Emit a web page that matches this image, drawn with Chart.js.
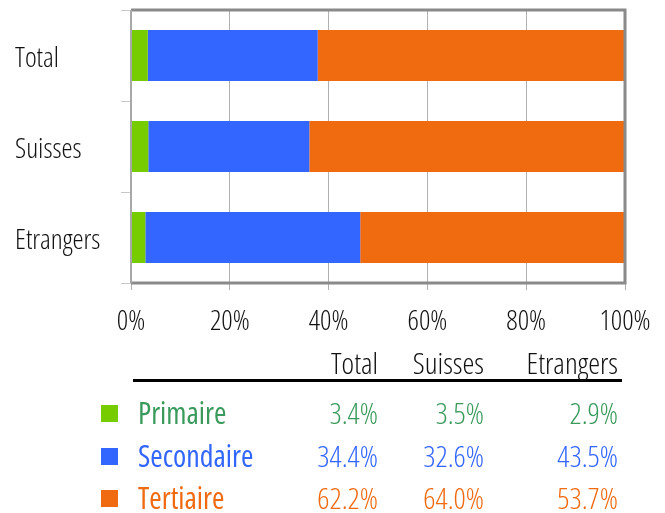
<!DOCTYPE html>
<html>
<head>
<meta charset="utf-8">
<script src="https://cdn.jsdelivr.net/npm/chart.js@4"></script>
<style>
  body { margin: 0; background: #ffffff; width: 665px; height: 513px; overflow: hidden; position: relative; font-family: "Open Sans", sans-serif; font-stretch: condensed; font-weight: 300; }
  #zone-graphique { position: absolute; left: 0; top: 0; width: 665px; height: 340px; }
  #tableau { position: absolute; left: 0; top: 0; width: 665px; height: 513px; }
  .cell { position: absolute; font-size: 30px; line-height: 30px; white-space: nowrap; }
  .droite { text-align: right; }
  .carre { position: absolute; width: 17px; height: 17px; }
  #trait { position: absolute; left: 133px; top: 379px; width: 489px; height: 3px; background: #000000; }
</style>
</head>
<body>
<div id="zone-graphique"><canvas id="graphique"></canvas></div>
<div id="tableau"><div id="trait"></div></div>
<script>
const GROUPES = ["Total", "Suisses", "Etrangers"];
const SECTEURS = ["Primaire", "Secondaire", "Tertiaire"];
const PRIMAIRE = [3.4, 3.5, 2.9];
const SECONDAIRE = [34.4, 32.6, 43.5];
const TERTIAIRE = [62.2, 64.0, 53.7];
const COULEURS_BARRES = ["#77cc00", "#3366ff", "#f06a10"];
const COULEURS_TEXTE = ["#3a9a5c", "#3366ff", "#f06a10"];

const SERIES = [PRIMAIRE, SECONDAIRE, TERTIAIRE];

// police étroite (Open Sans condensed)
const POLICE_AXES = { family: "'Open Sans'", size: 28, weight: "300 condensed" };

// cadre gris autour de la zone de tracé
const pluginCadre = {
  id: "cadre",
  afterDatasetsDraw(chart) {
    const { ctx, chartArea } = chart;
    const { left, right, top, bottom } = chartArea;
    ctx.save();
    ctx.strokeStyle = "#8a8a8a";
    ctx.lineWidth = 3;
    ctx.beginPath();
    ctx.moveTo(left, top);
    ctx.lineTo(right, top);
    ctx.lineTo(right, bottom);
    ctx.lineTo(left, bottom);
    ctx.stroke();
    ctx.strokeStyle = "#a8a8a8";
    ctx.lineWidth = 2;
    ctx.beginPath();
    ctx.moveTo(left, top);
    ctx.lineTo(left, bottom);
    ctx.stroke();
    ctx.restore();
  }
};

function construireTableau() {
  const tableau = document.getElementById("tableau");
  const colonnesDroite = [378, 484, 618];
  const lignesY = [398, 441, 483];

  function ajouter(texte, styles, classe) {
    const el = document.createElement("div");
    el.className = classe;
    el.textContent = texte;
    Object.assign(el.style, styles);
    tableau.appendChild(el);
    return el;
  }

  GROUPES.forEach((groupe, i) => {
    ajouter(groupe, { right: (665 - colonnesDroite[i]) + "px", top: "348px", color: "#111111" }, "cell droite");
  });

  SECTEURS.forEach((secteur, s) => {
    const y = lignesY[s];
    const carre = document.createElement("div");
    carre.className = "carre";
    carre.style.left = "101px";
    carre.style.top = (y + 7) + "px";
    carre.style.background = COULEURS_BARRES[s];
    tableau.appendChild(carre);

    ajouter(secteur, { left: "138px", top: y + "px", color: COULEURS_TEXTE[s], fontWeight: "500" }, "cell");

    SERIES[s].forEach((valeur, i) => {
      ajouter(valeur.toFixed(1) + "%", { right: (665 - colonnesDroite[i]) + "px", top: y + "px", color: COULEURS_TEXTE[s] }, "cell droite");
    });
  });
}

function iniciarGrafico() {
  const ctx = document.getElementById("graphique");
  new Chart(ctx, {
    type: "bar",
    data: {
      labels: GROUPES,
      datasets: SECTEURS.map((secteur, s) => ({
        label: secteur,
        data: SERIES[s],
        backgroundColor: COULEURS_BARRES[s],
        borderWidth: 0,
        categoryPercentage: 1,
        barPercentage: 0.56
      }))
    },
    options: {
      indexAxis: "y",
      responsive: true,
      maintainAspectRatio: false,
      animation: false,
      layout: { padding: { top: 10, right: 40, left: 15, bottom: 0 } },
      plugins: {
        legend: { display: false },
        tooltip: { enabled: false }
      },
      scales: {
        x: {
          stacked: true,
          min: 0,
          max: 100,
          afterFit(scale) {
            scale.height = 57;
            scale.paddingLeft = 0;
            scale.paddingRight = 0;
          },
          ticks: {
            stepSize: 20,
            padding: 15,
            color: "#111111",
            font: POLICE_AXES,
            callback(v) { return v + "%"; }
          },
          grid: {
            color: "#b0b0b0",
            lineWidth: 1,
            drawTicks: true,
            tickLength: 7
          },
          border: { display: false }
        },
        y: {
          stacked: true,
          afterFit(scale) {
            scale.width = 116;
            scale.paddingTop = 0;
            scale.paddingBottom = 0;
          },
          ticks: {
            crossAlign: "far",
            labelOffset: 4,
            color: "#111111",
            font: POLICE_AXES
          },
          grid: {
            drawOnChartArea: false,
            drawTicks: true,
            tickLength: 10,
            color: "#c8c8c8",
            offset: true
          },
          border: { display: false }
        }
      }
    },
    plugins: [pluginCadre]
  });
}

document.addEventListener("DOMContentLoaded", () => {
  iniciarGrafico();
  construireTableau();
});
</script>
</body>
</html>
